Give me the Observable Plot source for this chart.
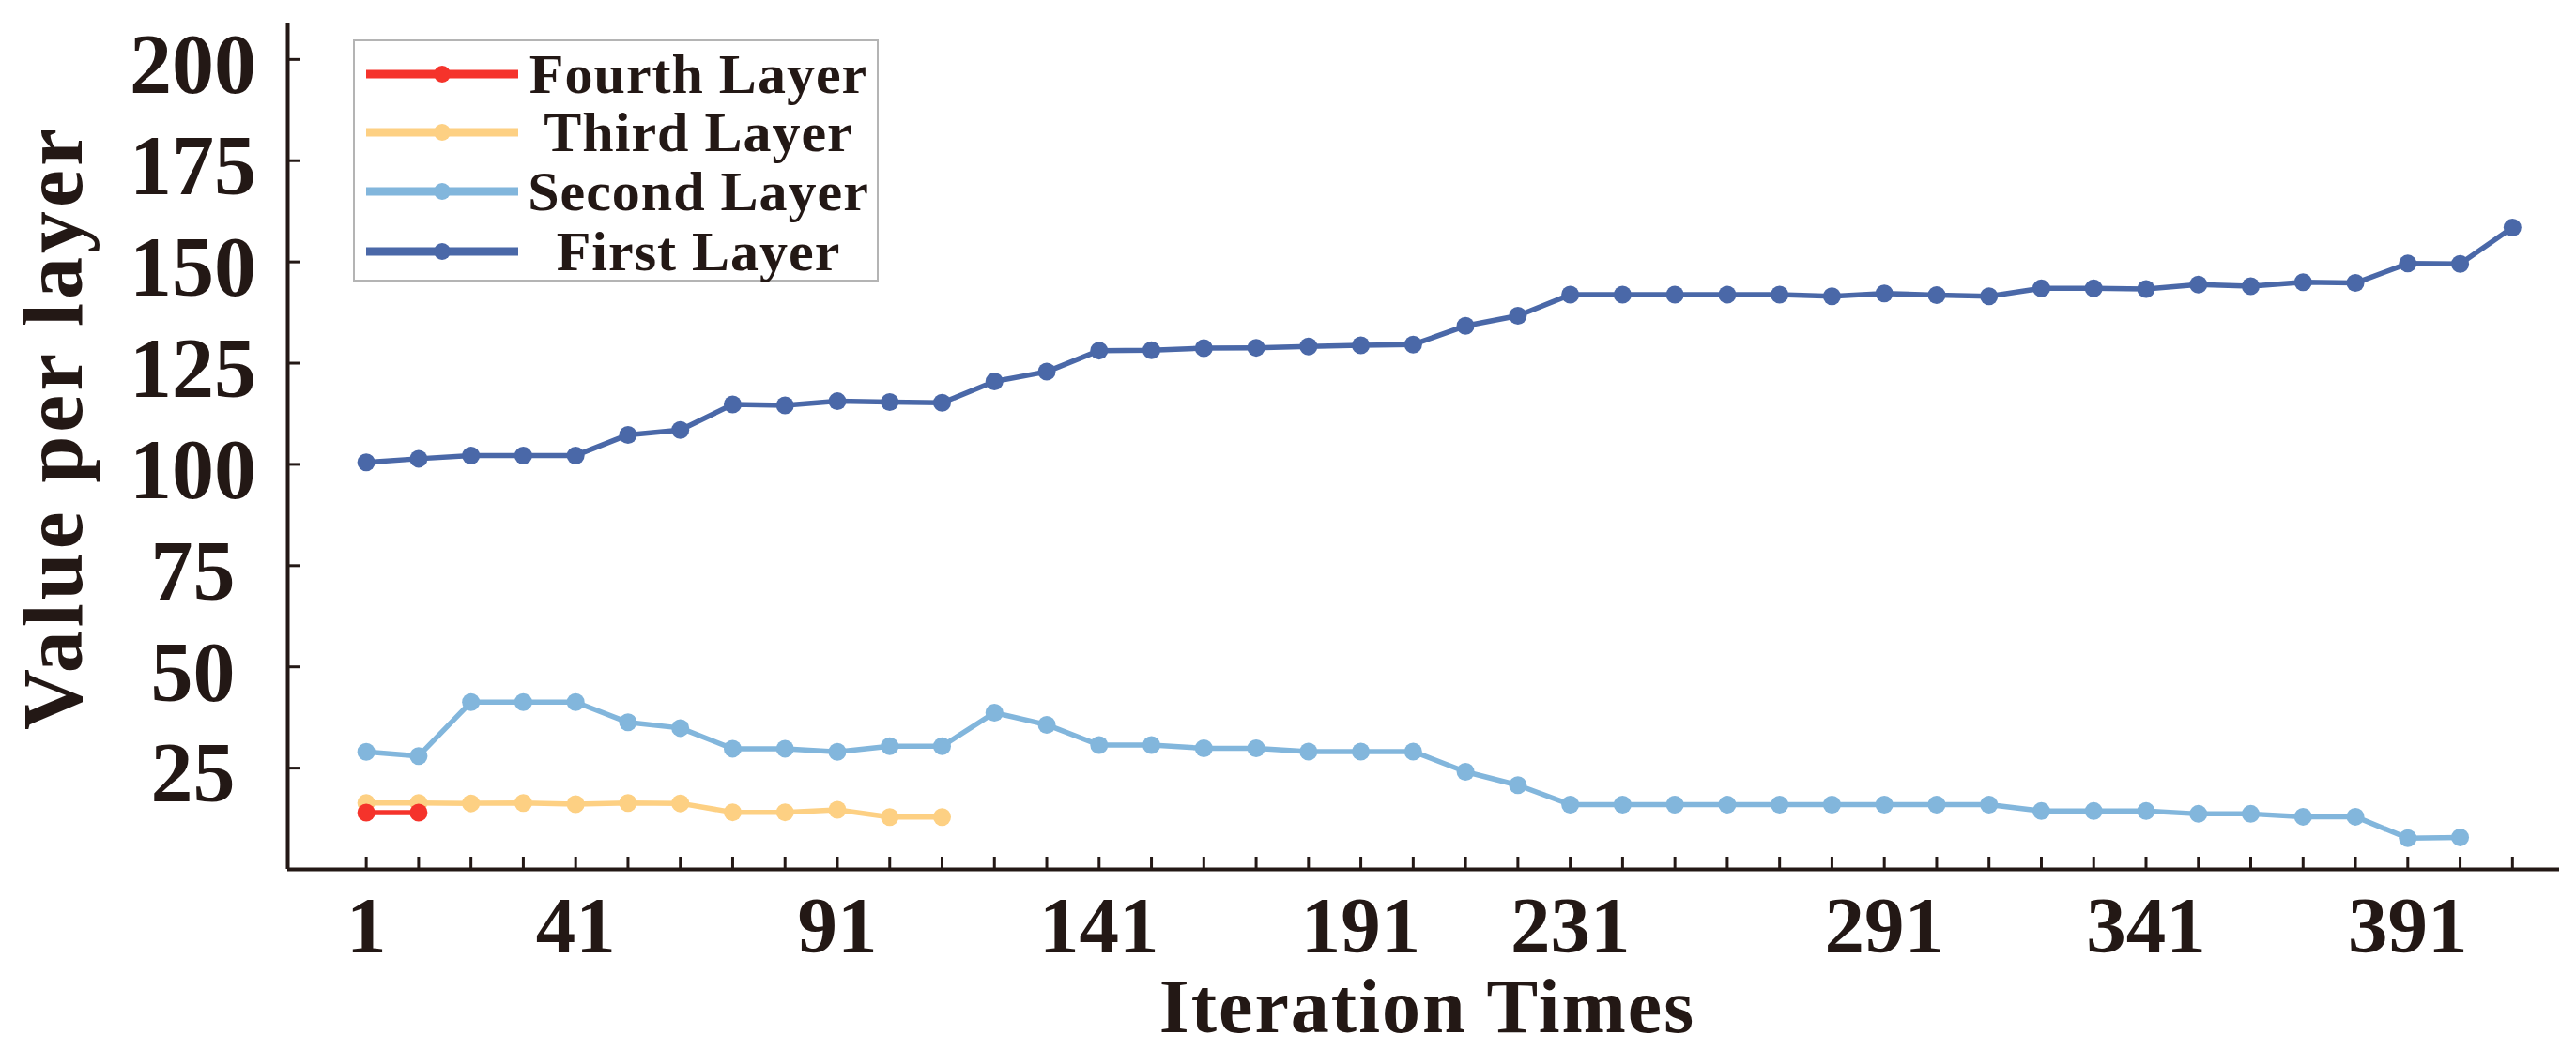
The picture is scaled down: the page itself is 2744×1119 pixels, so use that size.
<!DOCTYPE html>
<html>
<head>
<meta charset="utf-8">
<script src="https://cdn.jsdelivr.net/npm/d3@7"></script>
<script src="https://cdn.jsdelivr.net/npm/@observablehq/plot@0.6"></script>
<style>
  html, body { margin: 0; padding: 0; background: #fff; }
  #wrap { position: relative; width: 2744px; height: 1119px; }
  #legend {
    position: absolute; left: 376px; top: 42px; width: 560px; height: 258px;
    border: 2px solid #b4b4b4; background: #fff; box-sizing: border-box;
    font-family: 'Liberation Serif', 'Times New Roman', serif; font-weight: bold;
    font-size: 60px; color: #231815;
  }
  .row { position: absolute; left: 0; width: 100%; height: 60px; }
  .row svg { position: absolute; left: 10px; top: 0; }
  .row span { position: absolute; left: 176px; right: 0; top: 0; line-height: 60px; text-align: center; white-space: nowrap; letter-spacing: 1px; }
</style>
</head>
<body>
<div id="wrap"><div id="legend"></div></div>
<script>
// ---- data ----
const iterations = [1, 11, 21, 31, 41, 51, 61, 71, 81, 91, 101, 111, 121, 131, 141, 151, 161, 171, 181, 191, 201,
  211, 221, 231, 241, 251, 261, 271, 281, 291, 301, 311, 321, 331, 341, 351, 361, 371, 381, 391, 401, 411];

const firstLayer = [100.5, 101.4, 102.2, 102.2, 102.2, 107.3, 108.5, 114.8, 114.6, 115.6,
  115.4, 115.2, 120.5, 122.9, 128.1, 128.2, 128.7, 128.8, 129.1, 129.4,
  129.6, 134.2, 136.7, 141.9, 141.9, 141.9, 141.9, 141.9, 141.5, 142.2,
  141.8, 141.5, 143.5, 143.5, 143.3, 144.4, 144.0, 145.0, 144.8, 149.6,
  149.5, 158.5];

const secondLayer = [29.0, 28.0, 41.3, 41.3, 41.3, 36.3, 34.9, 29.8, 29.8, 29.0,
  30.4, 30.4, 38.7, 35.7, 30.7, 30.7, 29.9, 29.9, 29.1, 29.1,
  29.1, 24.1, 20.8, 16.0, 16.0, 16.0, 16.0, 16.0, 16.0, 16.0,
  16.0, 16.0, 14.4, 14.4, 14.4, 13.7, 13.7, 13.0, 13.0, 7.7,
  7.9];

const thirdLayer = [16.4, 16.4, 16.3, 16.4, 16.1, 16.4, 16.3, 14.1, 14.1, 14.7, 12.9, 12.9];

const fourthLayer = [14.0, 14.0];

const seriesNames = ["First Layer", "Second Layer", "Third Layer", "Fourth Layer"];
const seriesColors = ["#4a68a8", "#82b6dc", "#fdd083", "#f5332b"];
const seriesValues = [firstLayer, secondLayer, thirdLayer, fourthLayer];

const xTickLabels = [1, 41, 91, 141, 191, 231, 291, 341, 391];
const yTicks = [25, 50, 75, 100, 125, 150, 175, 200];

// ---- build table ----
const rows = [];
seriesValues.forEach((vals, s) => {
  vals.forEach((v, i) => rows.push({series: seriesNames[s], iter: iterations[i], value: v}));
});

const W = 2744, H = 1119;
const mL = 306, mR = 18, mT = 24, mB = 193;
const innerW = W - mL - mR, innerH = H - mT - mB;
const xDomain = [-14, 420], yDomain = [0, 209];
const ink = "#231815";
const font = "'Liberation Serif', 'Times New Roman', serif";

const marks = [];
seriesNames.forEach((name, s) => {
  const d = rows.filter(r => r.series === name);
  marks.push(Plot.line(d, {x: "iter", y: "value", stroke: seriesColors[s], strokeWidth: 5.5}));
  marks.push(Plot.dot(d, {x: "iter", y: "value", fill: seriesColors[s], r: 9.5}));
});

const chart = Plot.plot({
  width: W, height: H,
  marginLeft: mL, marginRight: mR, marginTop: mT, marginBottom: mB,
  style: {fontFamily: font, fontWeight: "bold", color: ink, background: "#fff", overflow: "visible"},
  x: {domain: xDomain},
  y: {domain: yDomain},
  marks: [
    Plot.ruleX(iterations, {insetTop: innerH - 13, stroke: ink, strokeWidth: 3}),
    Plot.ruleY(yTicks, {insetRight: innerW - 14, stroke: ink, strokeWidth: 3}),
    Plot.ruleY([yDomain[0]], {stroke: ink, strokeWidth: 4}),
    Plot.ruleX([xDomain[0]], {stroke: ink, strokeWidth: 4}),
    Plot.axisX({ticks: xTickLabels, tickSize: 0, tickPadding: 28, tickFormat: d => String(d),
      fontSize: 85, fontWeight: "bold", fill: ink, label: null}),
    Plot.axisY({ticks: yTicks, tickSize: 0, tickPadding: 101, tickFormat: d => String(d),
      textAnchor: "middle", dy: 7,
      fontSize: 90, fontWeight: "bold", fill: ink, label: null}),
    Plot.text(["Value per layer"], {frameAnchor: "left", dx: -248, dy: -20, rotate: -90,
      fontSize: 90, fontWeight: "bold", fill: ink, textAnchor: "middle", lineAnchor: "middle"}),
    Plot.text(["Iteration Times"], {frameAnchor: "bottom", dx: 4, dy: 147,
      fontSize: 82, fontWeight: "bold", fill: ink, textAnchor: "middle", lineAnchor: "middle"}),
    ...marks
  ]
});
document.getElementById("wrap").prepend(chart);

// letter spacing for the two axis titles
chart.querySelectorAll("text").forEach(t => {
  if (t.textContent === "Value per layer") t.setAttribute("letter-spacing", "4");
  if (t.textContent === "Iteration Times") t.setAttribute("letter-spacing", "2");
});

// ---- legend (overlay inside plot area) ----
const legendOrder = ["Fourth Layer", "Third Layer", "Second Layer", "First Layer"];
const rowTops = [5, 67, 130, 194];
const legend = document.getElementById("legend");
legendOrder.forEach((name, i) => {
  const c = seriesColors[seriesNames.indexOf(name)];
  const row = document.createElement("div");
  row.className = "row";
  row.style.top = rowTops[i] + "px";
  row.innerHTML = `<svg width="166" height="60"><line x1="2" x2="164" y1="30" y2="30" stroke="${c}" stroke-width="9"/><circle cx="83" cy="30" r="9" fill="${c}"/></svg><span>${name}</span>`;
  legend.appendChild(row);
});
</script>
</body>
</html>
